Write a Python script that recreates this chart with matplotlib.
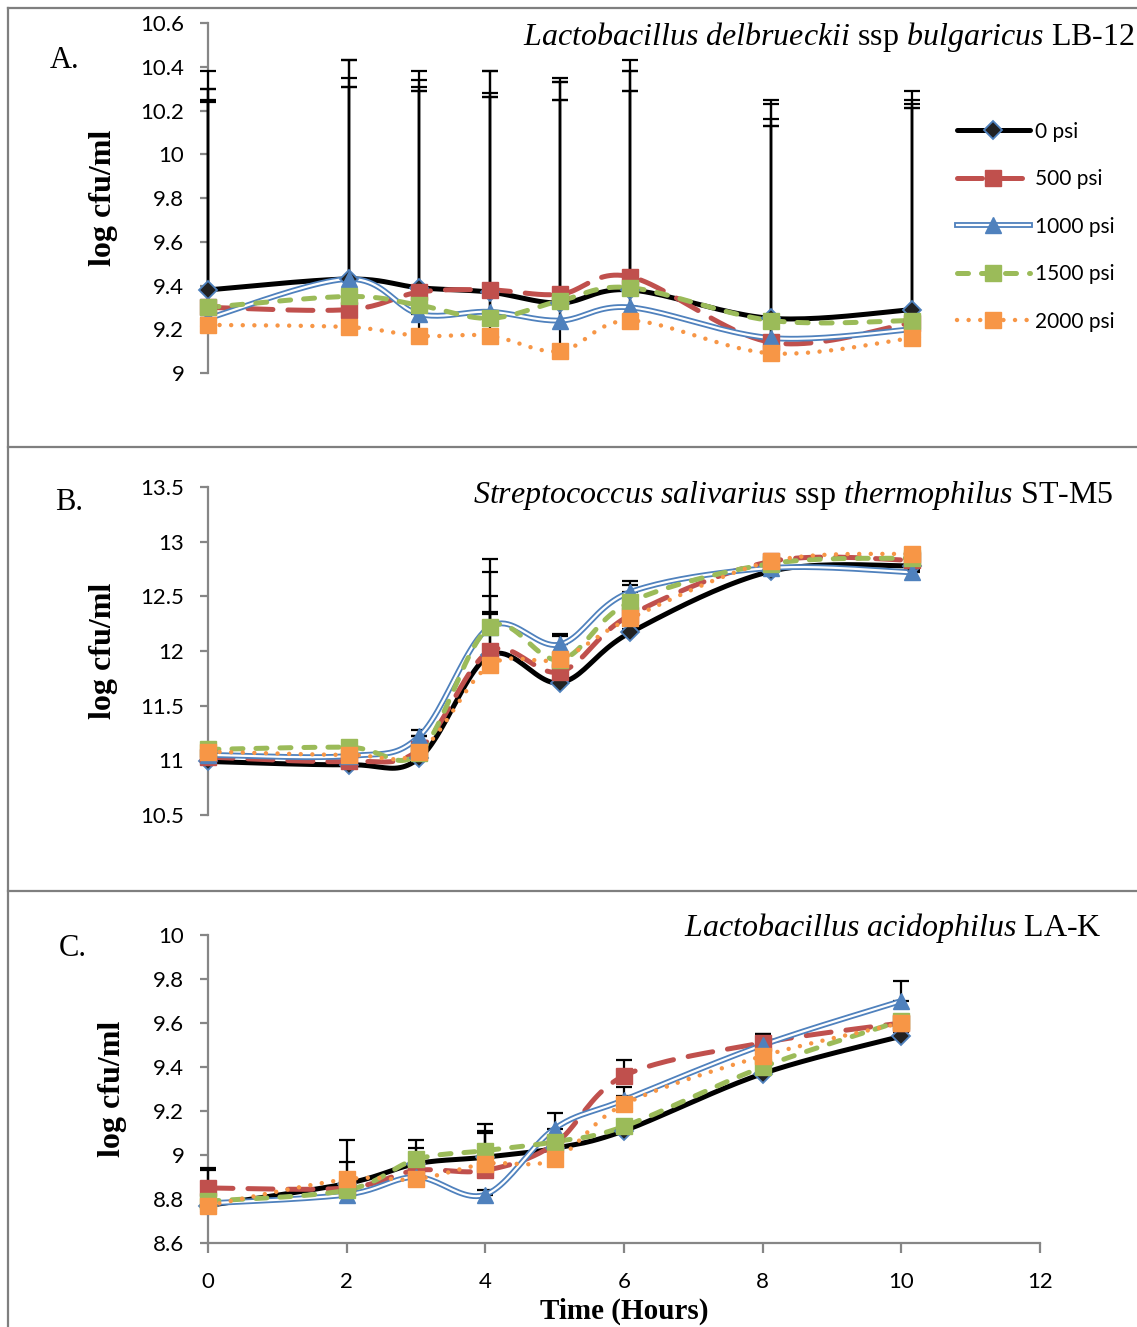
"""Viable counts under pressure: three stacked panels, Excel-style smoothed lines."""
import matplotlib
matplotlib.use("Agg")
import matplotlib.pyplot as plt
import numpy as np
from matplotlib.lines import Line2D

HOURS = [0, 2, 3, 4, 5, 6, 8, 10]
LABELS = ["0 psi", "500 psi", "1000 psi", "1500 psi", "2000 psi"]

# Panel A: L. delbrueckii ssp bulgaricus LB-12
A_0 = [9.38, 9.43, 9.39, 9.37, 9.32, 9.38, 9.25, 9.29]
A_500 = [9.30, 9.29, 9.37, 9.38, 9.36, 9.44, 9.14, 9.23]
A_1000 = [9.25, 9.43, 9.27, 9.28, 9.24, 9.30, 9.16, 9.20]
A_1500 = [9.30, 9.35, 9.31, 9.25, 9.33, 9.39, 9.24, 9.24]
A_2000 = [9.22, 9.21, 9.17, 9.17, 9.10, 9.24, 9.09, 9.16]
A_0_err = [1.00, 1.00, 0.99, 1.01, 1.01, 1.00, 1.00, 1.00]
A_500_err = [1.00, 1.02, 0.97, 1.00, 0.99, 0.99, 0.99, 1.00]
A_1000_err = [1.05, 1.00, 1.02, 1.00, 1.01, 0.99, 1.00, 1.01]
A_1500_err = [0.95, 1.00, 1.00, 1.01, 1.00, 0.99, 0.99, 1.01]
A_2000_err = [1.02, 1.10, 1.12, 1.09, 1.15, 1.05, 1.04, 1.05]

# Panel B: S. salivarius ssp thermophilus ST-M5
B_0 = [10.99, 10.96, 11.02, 11.96, 11.71, 12.17, 12.73, 12.78]
B_500 = [11.03, 10.99, 11.10, 12.00, 11.81, 12.33, 12.82, 12.83]
B_1000 = [11.05, 11.04, 11.22, 12.22, 12.06, 12.54, 12.76, 12.72]
B_1500 = [11.10, 11.12, 11.07, 12.22, 11.92, 12.45, 12.80, 12.85]
B_2000 = [11.08, 11.05, 11.08, 11.87, 11.93, 12.30, 12.82, 12.89]
B_0_err = [0.02, 0.02, 0.03, 0.40, 0.03, 0.03, 0.02, 0.02]
B_500_err = [0.02, 0.02, 0.12, 0.50, 0.04, 0.05, 0.02, 0.02]
B_1000_err = [0.02, 0.02, 0.06, 0.50, 0.10, 0.10, 0.02, 0.02]
B_1500_err = [0.02, 0.02, 0.03, 0.62, 0.22, 0.15, 0.02, 0.02]
B_2000_err = [0.02, 0.02, 0.03, 0.47, 0.04, 0.05, 0.02, 0.02]

# Panel C: L. acidophilus LA-K
C_0 = [8.77, 8.87, 8.96, 8.99, 9.03, 9.11, 9.37, 9.54]
C_500 = [8.85, 8.85, 8.93, 8.93, 9.05, 9.36, 9.51, 9.60]
C_1000 = [8.78, 8.82, 8.90, 8.82, 9.12, 9.25, 9.50, 9.70]
C_1500 = [8.79, 8.84, 8.98, 9.02, 9.06, 9.13, 9.40, 9.61]
C_2000 = [8.77, 8.89, 8.89, 8.96, 8.98, 9.23, 9.45, 9.60]
C_0_err = [0.02, 0.20, 0.07, 0.11, 0.03, 0.02, 0.02, 0.02]
C_500_err = [0.09, 0.02, 0.02, 0.02, 0.02, 0.07, 0.04, 0.02]
C_1000_err = [0.02, 0.15, 0.02, 0.02, 0.07, 0.02, 0.05, 0.09]
C_1500_err = [0.14, 0.02, 0.09, 0.12, 0.02, 0.02, 0.02, 0.02]
C_2000_err = [0.02, 0.02, 0.02, 0.15, 0.02, 0.08, 0.02, 0.02]

SANS = "Lato"
SERIF = "Liberation Serif"
GRAY = "#868686"
BLUE = "#4F81BD"

plt.rcParams["mathtext.fontset"] = "custom"
plt.rcParams["mathtext.rm"] = SERIF
plt.rcParams["mathtext.it"] = SERIF + ":italic"

# per-series look: line kwargs, marker kwargs
STYLES = [
    dict(line=dict(color="black", lw=3.6, solid_capstyle="round"),
         mark=dict(marker="D", ms=9.5, mfc="#222222", mec=BLUE, mew=1.3)),
    dict(line=dict(color="#C0504D", lw=3.6, ls=(0, (5, 3)), dash_capstyle="round"),
         mark=dict(marker="s", ms=11.5, mfc="#C0504D", mec="#C0504D")),
    dict(line=None,
         mark=dict(marker="^", ms=11.5, mfc=BLUE, mec=BLUE)),
    dict(line=dict(color="#9BBB59", lw=3.6, ls=(0, (2.2, 2.6)), dash_capstyle="round"),
         mark=dict(marker="s", ms=11.5, mfc="#9BBB59", mec="#9BBB59")),
    dict(line=dict(color="#F79646", lw=3.2, ls=(0, (0.01, 2.6)), dash_capstyle="round"),
         mark=dict(marker="s", ms=11.5, mfc="#F79646", mec="#F79646")),
]


def smooth(x, y, n=24):
    # Excel-like smoothed line: Catmull-Rom control points on a cubic Bezier
    p = np.column_stack([x, y]).astype(float)
    out = [p[:1]]
    t = np.linspace(0, 1, n)[1:, None]
    for i in range(len(p) - 1):
        p0 = p[i - 1] if i > 0 else p[i]
        p1, p2 = p[i], p[i + 1]
        p3 = p[i + 2] if i + 2 < len(p) else p[i + 1]
        c1 = p1 + (p2 - p0) / 6
        c2 = p2 - (p3 - p1) / 6
        seg = ((1 - t) ** 3) * p1 + 3 * ((1 - t) ** 2) * t * c1 + 3 * (1 - t) * t ** 2 * c2 + t ** 3 * p2
        out.append(seg)
    q = np.vstack(out)
    return q[:, 0], q[:, 1]


def draw_panel(ax, series, errs, ylim, step):
    for vals, err in zip(series, errs):
        eb = ax.errorbar(HOURS, vals, yerr=[np.zeros(len(err)), err], fmt="none",
                         ecolor="black", elinewidth=1.6, capsize=6, capthick=1.6, zorder=2)
        for art in eb.lines[1] + eb.lines[2]:
            art.set_clip_on(False)
    for vals, st in zip(series, STYLES):
        xs, ys = smooth(HOURS, vals)
        if st["line"] is None:
            ax.plot(xs, ys, color=BLUE, lw=4.2, zorder=3, clip_on=False)
            ax.plot(xs, ys, color="white", lw=1.6, zorder=3, clip_on=False)
        else:
            ax.plot(xs, ys, zorder=3, clip_on=False, **st["line"])
        ax.plot(HOURS, vals, ls="none", zorder=4, clip_on=False, **st["mark"])
    ax.set_ylim(*ylim)
    ax.set_yticks(np.arange(ylim[0], ylim[1] + step / 2, step))
    ax.yaxis.set_major_formatter(plt.FuncFormatter(lambda v, _: f"{v:g}"))
    for side in ("top", "right"):
        ax.spines[side].set_visible(False)
    ax.spines["left"].set_color(GRAY)
    ax.spines["left"].set_linewidth(1.6)
    ax.spines["left"].set_zorder(1)
    ax.tick_params(axis="y", direction="out", length=6, width=1.6, color=GRAY,
                   labelsize=16, pad=11)
    for lab in ax.get_yticklabels():
        lab.set_family(SANS)
    ax.set_ylabel("log cfu/ml", family=SERIF, fontweight="bold", fontsize=23)


fig = plt.figure(figsize=(11.37, 13.27), dpi=100)

axA = fig.add_axes([0.1829, 0.7189, 0.7432, 0.2637])
axB = fig.add_axes([0.1829, 0.3858, 0.7432, 0.2472])
axC = fig.add_axes([0.1829, 0.0633, 0.7318, 0.2321])

draw_panel(axA, [A_0, A_500, A_1000, A_1500, A_2000],
           [A_0_err, A_500_err, A_1000_err, A_1500_err, A_2000_err], (9, 10.6), 0.2)
draw_panel(axB, [B_0, B_500, B_1000, B_1500, B_2000],
           [B_0_err, B_500_err, B_1000_err, B_1500_err, B_2000_err], (10.5, 13.5), 0.5)
draw_panel(axC, [C_0, C_500, C_1000, C_1500, C_2000],
           [C_0_err, C_500_err, C_1000_err, C_1500_err, C_2000_err], (8.6, 10), 0.2)

for ax in (axA, axB):
    ax.set_xlim(0, 12)
    ax.spines["bottom"].set_visible(False)
    ax.set_xticks([])
    ax.yaxis.set_label_coords(-0.1065, 0.5)

axC.set_xlim(0, 12)
axC.set_xticks(range(0, 13, 2))
axC.spines["bottom"].set_color(GRAY)
axC.spines["bottom"].set_linewidth(1.6)
axC.tick_params(axis="x", direction="out", length=7, width=1.6, color=GRAY,
                labelsize=16, pad=14)
for lab in axC.get_xticklabels():
    lab.set_family(SANS)
axC.yaxis.set_label_coords(-0.097, 0.5)
axC.set_xlabel("Time (Hours)", family=SERIF, fontweight="bold", fontsize=21)
axC.xaxis.set_label_coords(0.5, -0.178)

# panel titles and letters
fig.text(1135 / 1137, 1 - 37 / 1327,
         r"$\mathit{Lactobacillus\ delbrueckii}$ ssp $\mathit{bulgaricus}$ LB-12",
         ha="right", va="center", family=SERIF, fontsize=23)
fig.text(1113 / 1137, 1 - 495 / 1327,
         r"$\mathit{Streptococcus\ salivarius}$ ssp $\mathit{thermophilus}$ ST-M5",
         ha="right", va="center", family=SERIF, fontsize=23)
fig.text(1102 / 1137, 1 - 928 / 1327,
         r"$\mathit{Lactobacillus\ acidophilus}$ LA-K",
         ha="right", va="center", family=SERIF, fontsize=23)
for letter, (px, py) in zip(["A.", "B.", "C."], [(50, 61), (55, 503), (59, 948)]):
    fig.text(px / 1137, 1 - py / 1327, letter, ha="left", va="center",
             family=SERIF, fontsize=22)

# outer frame and panel separators
frame = dict(color="#7F7F7F", lw=1.6, transform=fig.transFigure)
fig.add_artist(Line2D([8 / 1137, 8 / 1137], [0, 1 - 8 / 1327], **frame))
for py in (8, 447, 891):
    fig.add_artist(Line2D([8 / 1137, 1], [1 - py / 1327] * 2, **frame))

# legend
handles = []
for st in STYLES:
    mk = Line2D([], [], ls="none", **st["mark"])
    if st["line"] is None:
        handles.append((Line2D([], [], color=BLUE, lw=4.2),
                        Line2D([], [], color="white", lw=1.6), mk))
    else:
        handles.append((Line2D([], [], **st["line"]), mk))
fig.legend(handles, LABELS, loc="upper left",
           bbox_to_anchor=(938 / 1137, 1 - 103 / 1327), frameon=False,
           handlelength=3.5, handletextpad=0.25, labelspacing=1.32,
           prop=dict(family=SANS, size=15))

fig.savefig("out.png", dpi=100)
